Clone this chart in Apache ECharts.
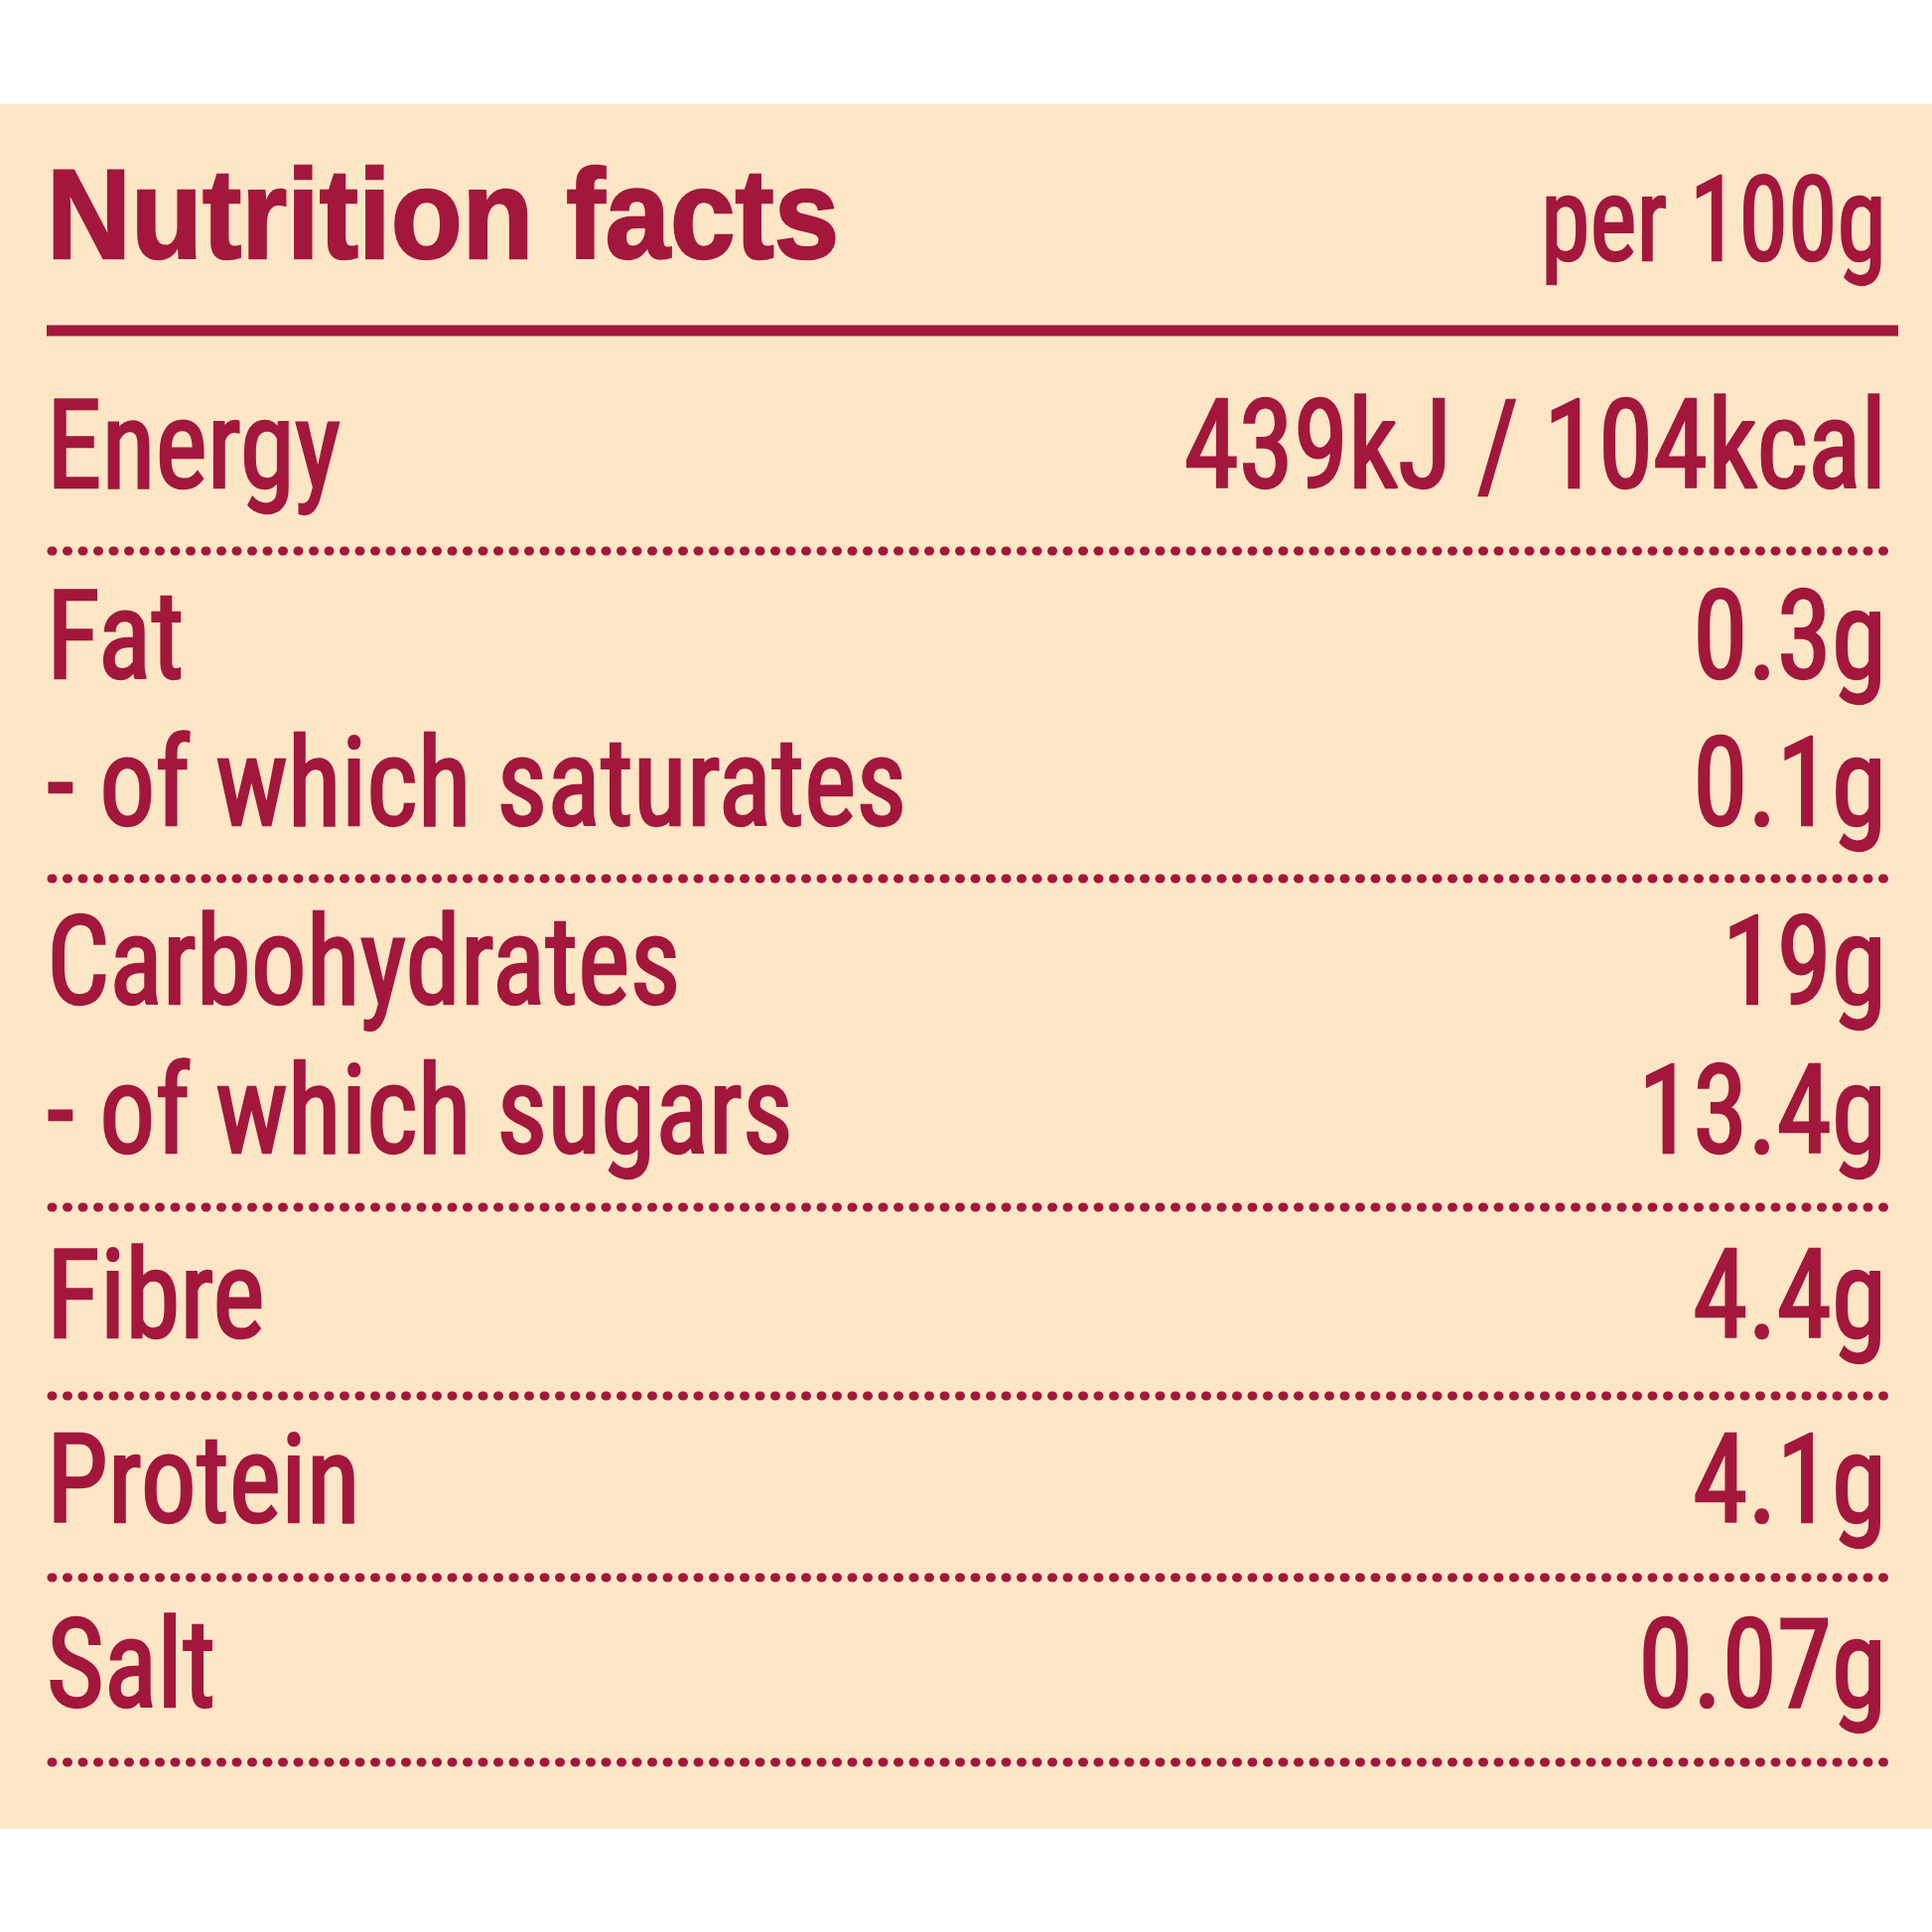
<!DOCTYPE html>
<html><head><meta charset="utf-8">
<script src="https://cdn.jsdelivr.net/npm/echarts@6/dist/echarts.min.js"></script>
<style>html,body{margin:0;padding:0;background:#fff}#c{width:1946px;height:1946px}</style>
</head><body><div id="c"></div>
<script>
const title = "Nutrition facts";
const perLabel = "per 100g";
const nutrients = ["Energy","Fat","- of which saturates","Carbohydrates","- of which sugars","Fibre","Protein","Salt"];
const amounts = ["439kJ / 104kcal","0.3g","0.1g","19g","13.4g","4.4g","4.1g","0.07g"];
const groupEnd = [true,false,true,false,true,true,true,true];

const C = '#a3173d', BG = '#fde6c6', FONT = '"Liberation Sans Narrow","Roboto Condensed","Liberation Sans",sans-serif';
const L = 47, R = 1900, rowY = [460,652,800,980,1130,1316,1502,1688], dotY = [555,885,1216,1406,1589,1775];
function txt(t, x, y, font, align, sx) {
  return {type:'text', x:x, y:y, scaleX:sx, originX:0, originY:0,
    style:{text:t, x:0, y:0, fill:C, stroke:C, lineWidth:2.5, font:font, textAlign:align, textVerticalAlign:'middle'}};
}
const els = [
  {type:'rect', shape:{x:0,y:105,width:1946,height:1737}, style:{fill:BG}},
  txt(title, L, 225, 'bold 128px "Liberation Sans",sans-serif', 'left', 0.92),
  txt(perLabel, R, 232, '118px '+FONT, 'right', 0.85),
  {type:'line', shape:{x1:L,y1:333,x2:1912,y2:333}, style:{stroke:C,lineWidth:11}}
];
let d = 0;
nutrients.forEach((n,i)=>{
  els.push(txt(n, L, rowY[i], '124px '+FONT, 'left', 0.9));
  els.push(txt(amounts[i], R, rowY[i], '124px '+FONT, 'right', 0.9));
  if (groupEnd[i]) {
    const y = dotY[d++];
    els.push({type:'line', shape:{x1:L+5,y1:y,x2:1900,y2:y}, style:{stroke:C,lineWidth:9,lineDash:[1,14.5],lineCap:'round'}});
  }
});
const chart = echarts.init(document.getElementById('c'));
chart.setOption({animation:false, backgroundColor:'#fff', graphic:{elements:els}});
</script></body></html>
